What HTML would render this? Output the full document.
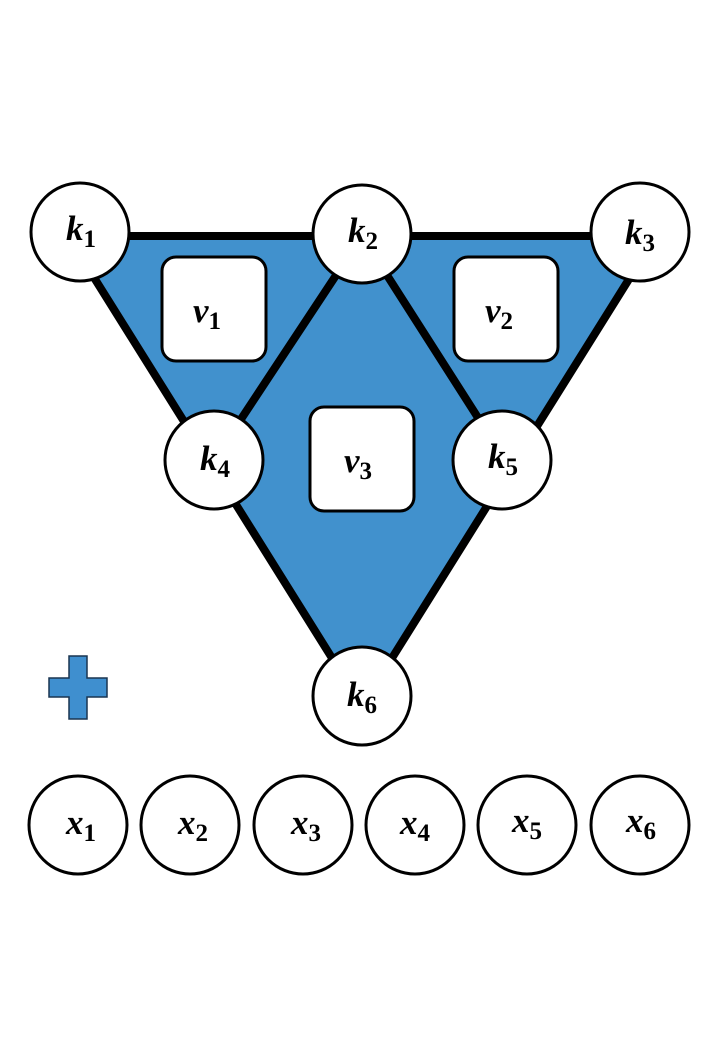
<!DOCTYPE html>
<html><head><style>
body{margin:0;background:#fff;}
svg{display:block}
text{font-family:"Liberation Serif",serif;font-weight:bold;font-style:italic;font-size:35px;fill:#000}
.s{font-style:normal;font-size:25px}
</style></head><body>
<svg width="720" height="1040" viewBox="0 0 720 1040">
<polygon points="68,236 656,236 362,706" fill="#4191CD"/>
<g stroke="#000" stroke-width="8" fill="none" stroke-linecap="round">
<line x1="68" y1="236" x2="656" y2="236"/>
<line x1="68" y1="236" x2="362" y2="706"/>
<line x1="656" y1="236" x2="362" y2="706"/>
<line x1="362" y1="236" x2="214" y2="460"/>
<line x1="362" y1="236" x2="505" y2="460"/>
</g>
<g fill="#fff" stroke="#000" stroke-width="3">
<rect x="162" y="257" width="104" height="104" rx="14"/>
<rect x="454" y="257" width="104" height="104" rx="14"/>
<rect x="310" y="407" width="104" height="104" rx="14"/>
<circle cx="80" cy="232" r="49"/>
<circle cx="362" cy="234" r="49"/>
<circle cx="640" cy="232" r="49"/>
<circle cx="214" cy="460" r="49"/>
<circle cx="502" cy="460" r="49"/>
<circle cx="362" cy="696" r="49"/>
<circle cx="78" cy="825" r="49"/>
<circle cx="190" cy="825" r="49"/>
<circle cx="303" cy="825" r="49"/>
<circle cx="415" cy="825" r="49"/>
<circle cx="527" cy="825" r="49"/>
<circle cx="640" cy="825" r="49"/>
</g>
<path d="M69,656 H87 V678 H107 V697 H87 V719 H69 V697 H49 V678 H69 Z" fill="#3F8FCF" stroke="#1a3550" stroke-width="1.5"/>
<text x="66" y="240">k<tspan class="s" dy="7">1</tspan></text>
<text x="348" y="242">k<tspan class="s" dy="7">2</tspan></text>
<text x="625" y="244">k<tspan class="s" dy="7">3</tspan></text>
<text x="200" y="470">k<tspan class="s" dy="7">4</tspan></text>
<text x="488" y="468">k<tspan class="s" dy="7">5</tspan></text>
<text x="347" y="706">k<tspan class="s" dy="7">6</tspan></text>
<text x="193" y="322">v<tspan class="s" dy="7">1</tspan></text>
<text x="485" y="322">v<tspan class="s" dy="7">2</tspan></text>
<text x="344" y="472">v<tspan class="s" dy="7">3</tspan></text>
<text x="66" y="834">x<tspan class="s" dy="7">1</tspan></text>
<text x="178" y="834">x<tspan class="s" dy="7">2</tspan></text>
<text x="291" y="834">x<tspan class="s" dy="7">3</tspan></text>
<text x="400" y="834">x<tspan class="s" dy="7">4</tspan></text>
<text x="512" y="832">x<tspan class="s" dy="7">5</tspan></text>
<text x="626" y="832">x<tspan class="s" dy="7">6</tspan></text>
</svg>
</body></html>
